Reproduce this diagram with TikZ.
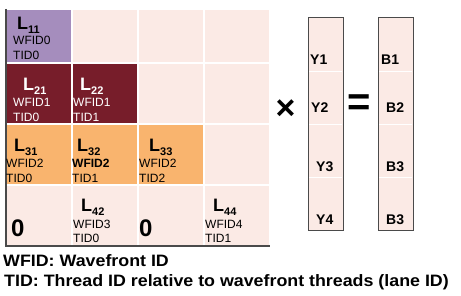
\documentclass[tikz,border=0pt]{standalone}
\usepackage{fontspec}
\setmainfont{Liberation Sans}
\newfontfamily\widesans[FakeStretch=1.08]{Liberation Sans}
\usepackage{tikz}
\usetikzlibrary{positioning}
\definecolor{Lilac}  {HTML}{A58DBD}
\definecolor{Wine}   {HTML}{771D2A}
\definecolor{Apricot}{HTML}{F9B46E}
\definecolor{Blush}  {HTML}{FBEAE5}
\definecolor{Frame}  {HTML}{4A4A4A}
\newcommand{\Lsub}[1]{{\fontsize{18}{18}\selectfont\bfseries L}\raisebox{-4pt}{\fontsize{11}{11}\selectfont\bfseries #1}}

\begin{document}
\begin{tikzpicture}[x=1pt,y=-1pt,
    cell/.style={draw=white,line width=1.5pt,fill=Blush,anchor=north west,
      minimum width=66pt,inner sep=0pt,outer sep=0pt},
    lname/.style={anchor=base west,inner sep=0pt},
    tag/.style={anchor=base west,inner sep=0pt,font=\fontsize{12}{12}\selectfont},
    zero/.style={anchor=base west,inner sep=0pt,font=\fontsize{24}{24}\selectfont\bfseries},
    vec/.style={draw=Frame,fill=Blush,line width=0.8pt,anchor=north west,
      minimum width=35pt,minimum height=213pt,inner sep=0pt,outer sep=0pt},
    entry/.style={anchor=base west,inner sep=0pt,font=\fontsize{14}{14}\selectfont\bfseries},
    note/.style={anchor=base west,inner sep=0pt,font=\widesans\fontsize{16.5}{16.5}\selectfont\bfseries}]
  \useasboundingbox (0,0) rectangle (461,296);
  % lower triangular matrix
  \foreach \r/\top/\h in {1/9/54,2/63/61,3/124/61,4/185/61}
    \foreach \c in {1,...,4}
      \node[cell,minimum height=\h pt] (c\r\c) at ({6+66*(\c-1)},\top) {};
  \foreach \n/\col in {c11/Lilac,c21/Wine,c22/Wine,c31/Apricot,c32/Apricot,c33/Apricot}
    \draw[white,line width=1.5pt,fill=\col] (\n.north west) rectangle (\n.south east);
  \draw[Frame,line width=1.5pt] (c11.north west) -- (c41.south west) -- (c44.south east);
  % row 1
  \node[lname] (l11) at (17,30) {\Lsub{11}};
  \node[tag] (w11) at (13,45) {WFID0};
  \node[tag] (t11) at (13,60) {TID0};
  % row 2
  \begin{scope}[white]
    \node[lname] (l21) at (23,91) {\Lsub{21}};
    \node[tag] (w21) at (13,107) {WFID1};
    \node[tag] (t21) at (13,122) {TID0};
    \node[lname] (l22) at (80,91) {\Lsub{22}};
    \node[tag] (w22) at (73,107) {WFID1};
    \node[tag] (t22) at (73,122) {TID1};
  \end{scope}
  % row 3
  \node[lname] (l31) at (14,152) {\Lsub{31}};
  \node[tag] (w31) at (6,168) {WFID2};
  \node[tag] (t31) at (6,183) {TID0};
  \node[lname] (l32) at (77,152) {\Lsub{32}};
  \node[tag,font=\fontsize{12}{12}\selectfont\bfseries] (w32) at (72,168) {WFID2};
  \node[tag] (t32) at (72,183) {TID1};
  \node[lname] (l33) at (149,152) {\Lsub{33}};
  \node[tag] (w33) at (139,168) {WFID2};
  \node[tag] (t33) at (139,183) {TID2};
  % row 4
  \node[zero] (z41) at (11,237) {0};
  \node[lname] (l42) at (81,212) {\Lsub{42}};
  \node[tag] (w42) at (73,229) {WFID3};
  \node[tag] (t42) at (73,243) {TID0};
  \node[zero] (z43) at (139,237) {0};
  \node[lname] (l44) at (213,212) {\Lsub{44}};
  \node[tag] (w44) at (205,229) {WFID4};
  \node[tag] (t44) at (205,243) {TID1};
  % vectors
  \node[vec] (ycol) at (308,17) {};
  \node[vec] (bcol) at (378,17) {};
  \foreach \yy in {71,124,177} {
    \draw[white,line width=0.8pt] (309,\yy) -- (342,\yy);
    \draw[white,line width=0.8pt] (379,\yy) -- (412,\yy);
  }
  \node[entry] (y1) at (310,65) {Y1};
  \node[entry] (y2) at (311,113) {Y2};
  \node[entry] (y3) at (316,172) {Y3};
  \node[entry] (y4) at (316,225) {Y4};
  \node[entry] (b1) at (381,65) {B1};
  \node[entry] (b2) at (386,113) {B2};
  \node[entry] (b3) at (386,172) {B3};
  \node[entry] (b4) at (386,225) {B3};
  \node[inner sep=0pt,font=\fontsize{34}{34}\selectfont\bfseries] (times) at (285.5,109.5) {×};
  \node[inner sep=0pt,font=\fontsize{40}{40}\selectfont\bfseries] (equals) at (359.5,105) {=};
  % legend
  \node[note] (n1) at (3,267) {WFID: Wavefront ID};
  \node[note] (n2) at (4,287) {TID: Thread ID relative to wavefront threads (lane ID)};
\end{tikzpicture}
\end{document}
